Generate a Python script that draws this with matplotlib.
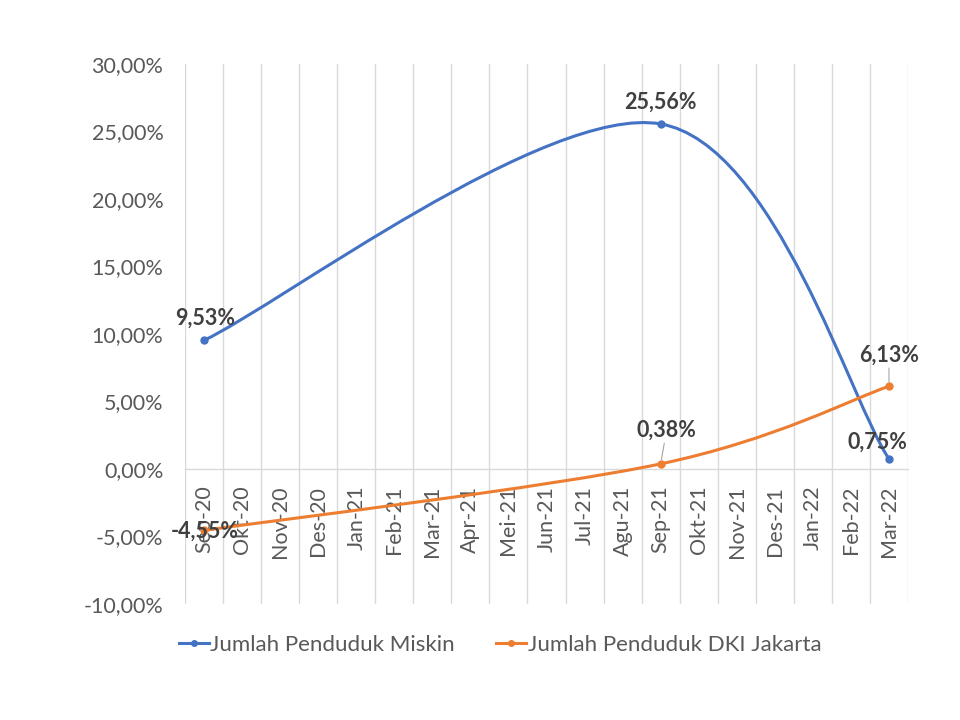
import matplotlib
matplotlib.use("Agg")
import matplotlib.pyplot as plt
from matplotlib.path import Path
from matplotlib.patches import PathPatch
from matplotlib.lines import Line2D
import numpy as np

categories = ["Sep-20", "Okt-20", "Nov-20", "Des-20", "Jan-21", "Feb-21", "Mar-21",
              "Apr-21", "Mei-21", "Jun-21", "Jul-21", "Agu-21", "Sep-21", "Okt-21",
              "Nov-21", "Des-21", "Jan-22", "Feb-22", "Mar-22"]
point_cats = ["Sep-20", "Sep-21", "Mar-22"]
miskin = [9.53, 25.56, 0.75]
dki = [-4.55, 0.38, 6.13]
series_names = ["Jumlah Penduduk Miskin", "Jumlah Penduduk DKI Jakarta"]
yticks = [-10, -5, 0, 5, 10, 15, 20, 25, 30]

BLUE = "#4472C4"
ORANGE = "#ED7D31"
FONT = ["Lato", "DejaVu Sans"]
plt.rcParams["font.family"] = FONT

fig = plt.figure(figsize=(9.6, 7.2), dpi=100)
ax = fig.add_axes([185/960, 1-604/720, (908-185)/960, (604-64)/720])

xs = [categories.index(c) for c in point_cats]


def smooth_path(x, y):
    pts = np.column_stack([x, y]).astype(float)
    n = len(pts)
    verts = [pts[0]]
    codes = [Path.MOVETO]
    for i in range(n - 1):
        p0 = pts[i - 1] if i > 0 else pts[i]
        p1 = pts[i]
        p2 = pts[i + 1]
        p3 = pts[i + 2] if i + 2 < n else pts[i + 1]
        c1 = p1 + (p2 - p0) / 6.0
        c2 = p2 - (p3 - p1) / 6.0
        verts += [c1, c2, p2]
        codes += [Path.CURVE4] * 3
    return Path(verts, codes)


for vals, col in [(miskin, BLUE), (dki, ORANGE)]:
    patch = PathPatch(smooth_path(xs, vals), facecolor="none", edgecolor=col,
                      lw=2.2, capstyle="round", joinstyle="round", zorder=3)
    ax.add_patch(patch)
    ax.plot(xs, vals, "o", color=col, ms=5, zorder=4)

ax.set_xlim(-0.5, len(categories) - 0.5)
ax.set_ylim(-10, 30)
ax.set_yticks(yticks)
ax.set_yticklabels([f"{v:.2f}".replace(".", ",") + "%" for v in yticks])
ax.set_xticks(range(len(categories)))
ax.set_xticklabels(categories)
ax.set_xticks(np.arange(-0.5, len(categories), 1.0), minor=True)
ax.grid(True, which="minor", axis="x", color="#d9d9d9", lw=1)
ax.grid(False, which="major")
for s in ["left", "right", "top"]:
    ax.spines[s].set_visible(False)
ax.spines["bottom"].set_position(("data", 0))
ax.spines["bottom"].set_color("#d9d9d9")
ax.spines["bottom"].set_linewidth(1)
ax.tick_params(axis="x", which="both", length=0)
ax.tick_params(axis="x", which="major", pad=12, labelsize=15.5, labelcolor="#595959",
               labelrotation=90)
ax.tick_params(axis="y", length=0, pad=15.5, labelsize=15.5, labelcolor="#595959")

lab_kw = dict(fontsize=15.5, fontweight="bold", color="#404040", ha="center", va="center",
              textcoords="offset points", zorder=5)
arrow = dict(arrowstyle="-", color="#a6a6a6", lw=0.8, shrinkA=0, shrinkB=3)

def fmt(v):
    return f"{v:.2f}".replace(".", ",") + "%"

ax.annotate(fmt(miskin[0]), (xs[0], miskin[0]), xytext=(0.7, 15.8), **lab_kw)
ax.annotate(fmt(miskin[1]), (xs[1], miskin[1]), xytext=(0, 15.8), **lab_kw)
ax.annotate(fmt(miskin[2]), (xs[2], miskin[2]), xytext=(-8.3, 12.2), **lab_kw)
ax.annotate(fmt(dki[0]), (xs[0], dki[0]), xytext=(0.7, -0.7), **lab_kw)
ax.annotate(fmt(dki[1]), (xs[1], dki[1]), xytext=(4.3, 24.5), arrowprops=arrow, **lab_kw)
ax.annotate(fmt(dki[2]), (xs[2], dki[2]), xytext=(0, 22.7), arrowprops=arrow, **lab_kw)

handles = [Line2D([0], [0], color=BLUE, lw=2.2, marker="o", ms=4),
           Line2D([0], [0], color=ORANGE, lw=2.2, marker="o", ms=4)]
leg = fig.legend(handles, series_names, loc="center", bbox_to_anchor=(500/960, 1-645/720),
                 ncol=2, frameon=False, fontsize=16, handlelength=1.35, handletextpad=0.08,
                 columnspacing=1.85, borderpad=0, borderaxespad=0)
for t in leg.get_texts():
    t.set_color("#595959")

fig.savefig("out.png", dpi=100, facecolor="white")
